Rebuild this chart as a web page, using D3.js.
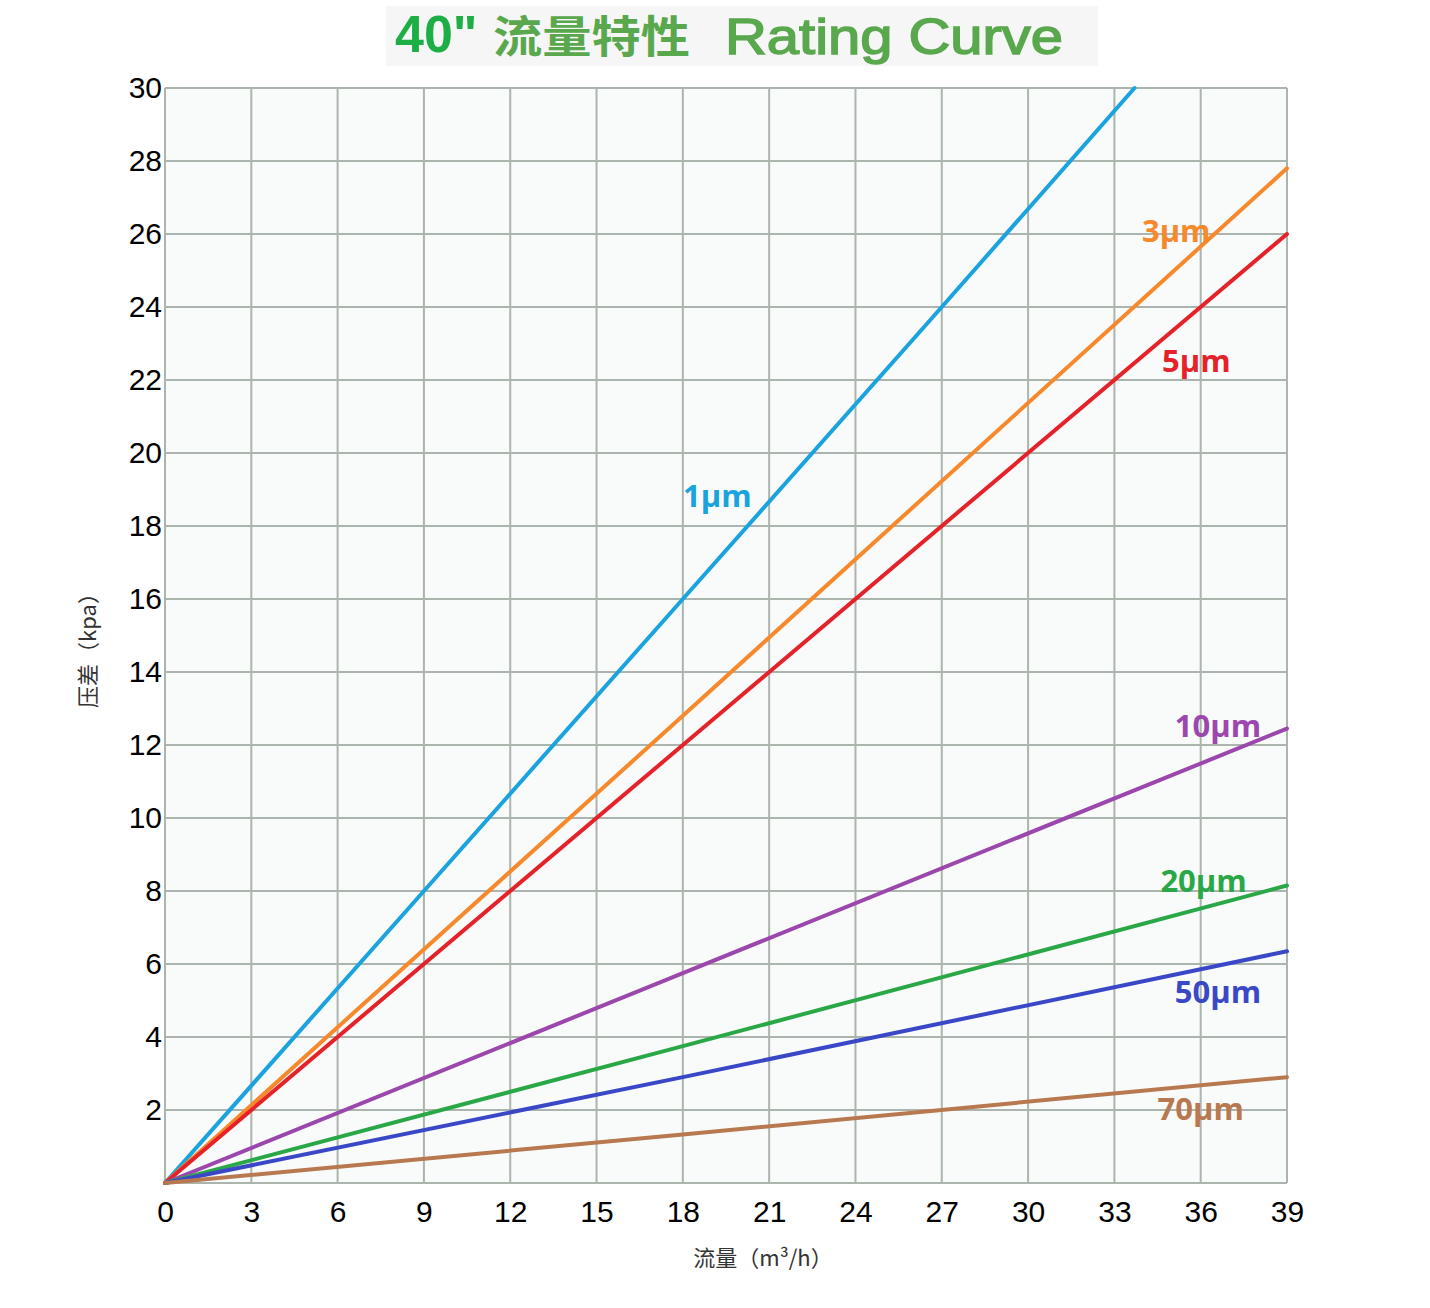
<!DOCTYPE html>
<html>
<head>
<meta charset="utf-8">
<script src="https://cdn.jsdelivr.net/npm/d3@7"></script>
<style>
  html, body { margin: 0; padding: 0; background: #ffffff; }
  svg { display: block; }
</style>
</head>
<body>
<svg id="chart" width="1430" height="1308"></svg>
<script>
// ---- data ----
const xTicks = [0, 3, 6, 9, 12, 15, 18, 21, 24, 27, 30, 33, 36, 39];
const yTicks = [2, 4, 6, 8, 10, 12, 14, 16, 18, 20, 22, 24, 26, 28, 30];
const seriesNames = ["1µm", "3µm", "5µm", "10µm", "20µm", "50µm", "70µm"];
const seriesColors = ["#1aa3de", "#f7892c", "#e52229", "#9b47ad", "#2aa847", "#3a48c8", "#b87850"];
// each series: [flow, pressure] points
const s1um  = [[0, 0], [9, 8], [18, 16], [27, 24], [33.7, 30]];
const s3um  = [[0, 0], [18, 12.8], [39, 27.8]];
const s5um  = [[0, 0], [18, 12.0], [39, 26.0]];
const s10um = [[0, 0], [18, 5.75], [39, 12.45]];
const s20um = [[0, 0], [18, 3.75], [39, 8.15]];
const s50um = [[0, 0], [18, 2.9], [39, 6.35]];
const s70um = [[0, 0], [18, 1.33], [39, 2.9]];
const seriesData = [s1um, s3um, s5um, s10um, s20um, s50um, s70um];
// label anchor (data coordinates, centre of text)
const labelX = [19.2, 35.15, 35.85, 36.6, 36.1, 36.6, 36.0];
const labelY = [18.85, 26.1, 22.55, 12.55, 8.3, 5.25, 2.05];

const titleMain = "40\"";
const titleCn = "流量特性";
const titleEn = "Rating Curve";
const yTitle = "压差（kpa）";
const xTitle = "流量（m³/h）";

// ---- layout ----
(function () {
const svg = d3.select("#chart");
const pLeft = 165, pRight = 1287, pTop = 88, pBottom = 1183;
const x = d3.scaleLinear().domain([0, 39]).range([pLeft, pRight]);
const y = d3.scaleLinear().domain([0, 30]).range([pBottom, pTop]);

// plot background
svg.append("rect").attr("x", pLeft).attr("y", pTop)
  .attr("width", pRight - pLeft).attr("height", pBottom - pTop)
  .attr("fill", "#f8fbf9");

// title backdrop
svg.append("rect").attr("x", 386).attr("y", 6).attr("width", 712).attr("height", 60)
  .attr("fill", "#f6f6f6");

// grid
const gridColor = "#acb5ad";
svg.append("g").selectAll("line").data(xTicks).join("line")
  .attr("x1", d => x(d)).attr("x2", d => x(d))
  .attr("y1", pTop).attr("y2", pBottom)
  .attr("stroke", gridColor).attr("stroke-width", 2);
svg.append("g").selectAll("line").data([0].concat(yTicks)).join("line")
  .attr("x1", pLeft).attr("x2", pRight)
  .attr("y1", d => y(d)).attr("y2", d => y(d))
  .attr("stroke", gridColor).attr("stroke-width", 2);

// axes (labels only)
const xAxis = d3.axisBottom(x).tickValues(xTicks).tickSize(0).tickPadding(18);
const gx = svg.append("g").attr("transform", `translate(0,${pBottom})`).call(xAxis);
gx.select(".domain").remove();
gx.selectAll("text").attr("font-family", "Liberation Sans, Arial, sans-serif")
  .attr("font-size", 30).attr("fill", "#000");

const yAxis = d3.axisLeft(y).tickValues(yTicks).tickSize(0).tickPadding(3);
const gy = svg.append("g").attr("transform", `translate(${pLeft},0)`).call(yAxis);
gy.select(".domain").remove();
gy.selectAll("text").attr("font-family", "Liberation Sans, Arial, sans-serif")
  .attr("font-size", 30).attr("fill", "#000");

// lines
const line = d3.line().x(d => x(d[0])).y(d => y(d[1]));
svg.append("g").selectAll("path").data(seriesData).join("path")
  .attr("d", d => line(d))
  .attr("fill", "none")
  .attr("stroke", (d, i) => seriesColors[i])
  .attr("stroke-width", 4)
  .attr("stroke-linecap", "round");

// series labels
svg.append("g").selectAll("text").data(seriesNames).join("text")
  .attr("x", (d, i) => x(labelX[i]))
  .attr("y", (d, i) => y(labelY[i]))
  .attr("text-anchor", "middle")
  .attr("dominant-baseline", "central")
  .attr("font-family", "Open Sans, sans-serif")
  .attr("font-weight", "bold")
  .attr("font-size", 31)
  .attr("fill", (d, i) => seriesColors[i])
  .text(d => d);

// title
svg.append("text").attr("x", 395).attr("y", 52)
  .attr("font-family", "Liberation Sans, Arial, sans-serif")
  .attr("font-weight", "bold").attr("font-size", 52)
  .attr("fill", "#1daf45").text(titleMain);
svg.append("text").attr("x", 493).attr("y", 53)
  .attr("font-family", "'Noto Sans CJK SC', sans-serif")
  .attr("font-weight", "bold").attr("font-size", 44)
  .attr("textLength", 197).attr("lengthAdjust", "spacingAndGlyphs")
  .attr("fill", "#5aa84e").text(titleCn);
svg.append("text").attr("x", 725).attr("y", 54)
  .attr("font-family", "Liberation Sans, Arial, sans-serif")
  .attr("font-size", 50)
  .attr("fill", "#5aa84e").attr("stroke", "#5aa84e").attr("stroke-width", 1.5)
  .attr("textLength", 338).attr("lengthAdjust", "spacingAndGlyphs")
  .text(titleEn);

// axis titles
svg.append("text")
  .attr("transform", `translate(96,645) rotate(-90)`)
  .attr("text-anchor", "middle")
  .attr("font-family", "'Noto Sans CJK SC', sans-serif")
  .attr("font-size", 22).attr("fill", "#333")
  .text(yTitle);
svg.append("text")
  .attr("x", 763).attr("y", 1266)
  .attr("text-anchor", "middle")
  .attr("font-family", "'Noto Sans CJK SC', sans-serif")
  .attr("font-size", 22).attr("fill", "#333")
  .text(xTitle);
})();
</script>
</body>
</html>
